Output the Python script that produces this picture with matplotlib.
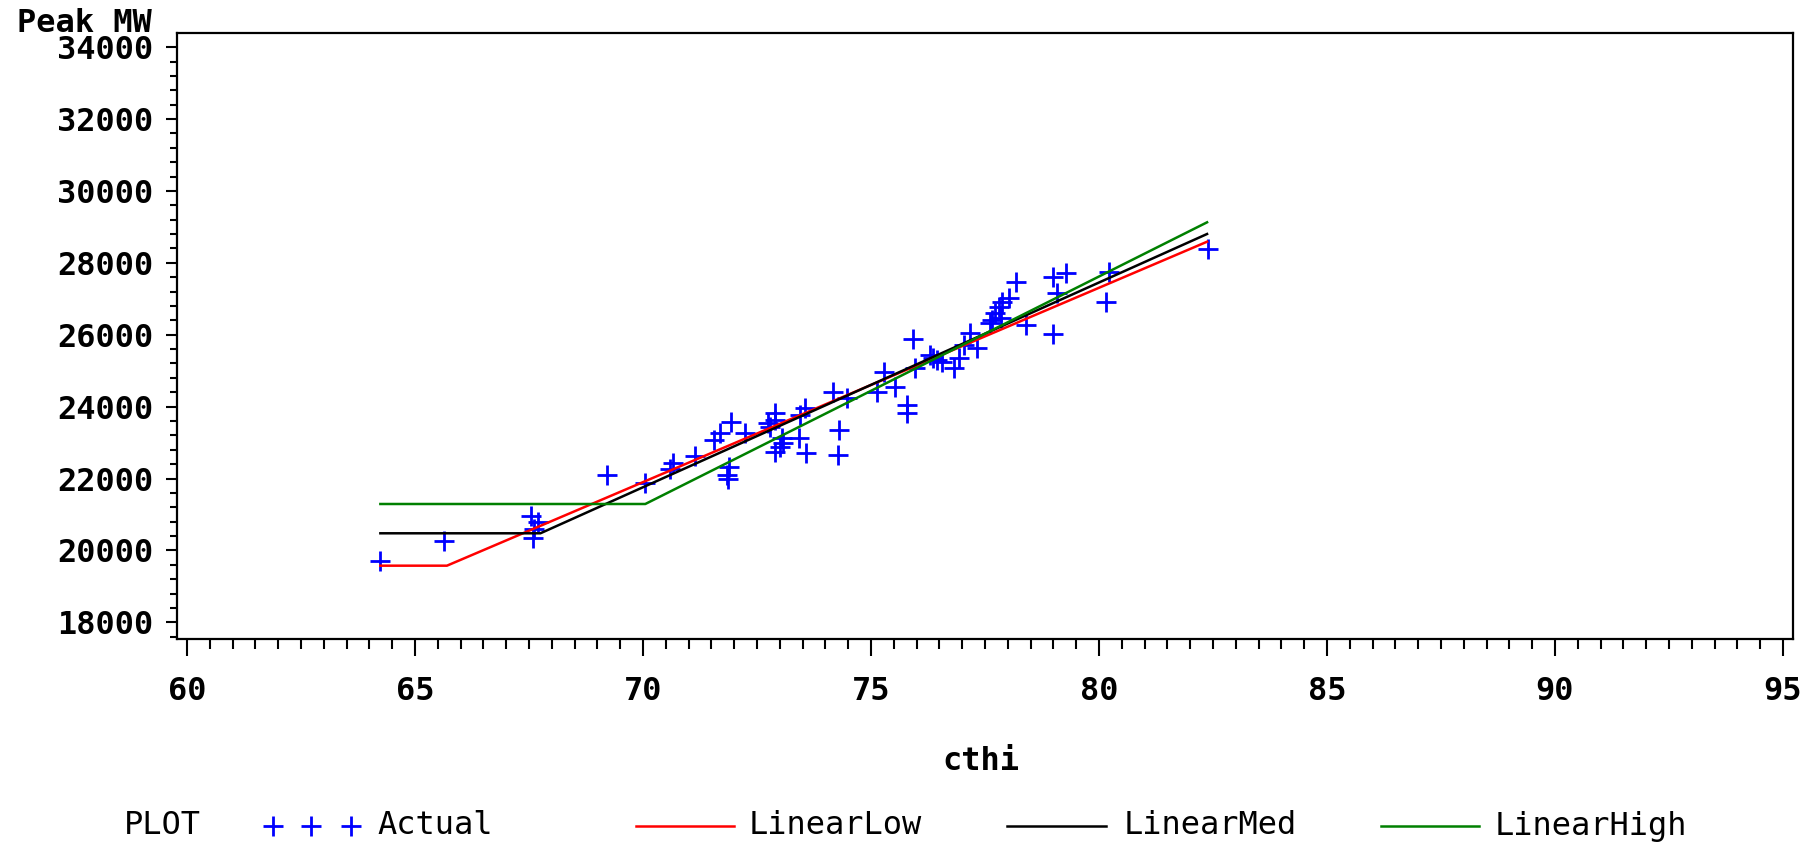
import matplotlib
matplotlib.use('Agg')
import matplotlib.pyplot as plt
from matplotlib.lines import Line2D
from matplotlib.ticker import MultipleLocator

# observed daily peaks against cthi
cthi = [64.24, 65.63, 67.55, 67.70, 67.62, 67.58, 69.22, 70.05, 70.66, 70.60,
        71.13, 71.55, 71.69, 71.92, 72.24, 71.88, 71.84, 71.86, 72.75, 72.90,
        73.05, 72.90, 73.01, 72.90, 72.79, 73.06, 73.56, 73.45, 73.41, 73.58,
        74.17, 74.47, 74.29, 74.27, 75.29, 75.13, 75.52, 75.79, 75.79, 75.93,
        75.97, 76.30, 76.37, 76.45, 76.56, 76.81, 76.92, 77.03, 77.18, 77.32,
        77.62, 77.65, 77.73, 77.84, 77.80, 77.87, 78.02, 78.19, 78.41, 79.00,
        79.08, 79.00, 79.28, 80.21, 80.15, 82.38]
peak_mw = [19705, 20262, 20950, 20800, 20600, 20340, 22100, 21870, 22420, 22260,
           22630, 23070, 23260, 23580, 23260, 22330, 22100, 22000, 23540, 23810,
           23120, 22750, 22890, 23630, 23440, 22980, 23950, 23770, 23120, 22700,
           24420, 24230, 23350, 22650, 24970, 24420, 24560, 24050, 23810, 25870,
           25070, 25440, 25350, 25300, 25250, 25070, 25340, 25710, 26040, 25620,
           26320, 26410, 26600, 26460, 26780, 26920, 27010, 27480, 26270, 27620,
           27150, 26010, 27710, 27750, 26920, 28380]

# fitted piecewise-linear models (flat floor, then linear)
low_x = [64.24, 65.70, 82.37]
low_y = [19575, 19575, 28588]
med_x = [64.24, 67.75, 82.37]
med_y = [20476, 20476, 28803]
high_x = [64.24, 70.05, 82.37]
high_y = [21291, 21291, 29128]

W, H = 1820, 843
FONT = 'DejaVu Sans Mono'
FS = 23
MS, MEW, LW = 15, 2.0, 1.8

fig = plt.figure(figsize=(W / 100, H / 100), dpi=100)
ax = fig.add_axes([177 / W, 1 - 639 / H, (1793 - 177) / W, (639 - 33) / H])

ax.plot(cthi, peak_mw, linestyle='none', marker='+', color='#0000FF',
        markersize=MS, markeredgewidth=MEW)
ax.plot(low_x, low_y, color='#FF0000', lw=LW)
ax.plot(med_x, med_y, color='black', lw=LW)
ax.plot(high_x, high_y, color='#008000', lw=LW)

ax.set_xlim(59.78, 95.22)
ax.set_ylim(17535, 34395)
ax.xaxis.set_major_locator(MultipleLocator(5))
ax.xaxis.set_minor_locator(MultipleLocator(0.5))
ax.yaxis.set_major_locator(MultipleLocator(2000))
ax.yaxis.set_minor_locator(MultipleLocator(400))

for s in ax.spines.values():
    s.set_linewidth(1.6)

ax.tick_params(axis='x', which='major', length=12, width=1.5, pad=15)
ax.tick_params(axis='x', which='minor', length=7, width=1.5)
ax.tick_params(axis='y', which='major', length=8, width=1.5, pad=9)
ax.tick_params(axis='y', which='minor', length=5, width=1.5)
for lab in ax.get_xticklabels() + ax.get_yticklabels():
    lab.set_family(FONT)
    lab.set_fontsize(FS)
    lab.set_fontweight('bold')

ax.set_xlabel('cthi', family=FONT, fontsize=FS, fontweight='bold', va='center')
ax.xaxis.set_label_coords((981 - 177) / (1793 - 177), (639 - 761) / (639 - 33))

fig.text(152 / W, 1 - 23 / H, 'Peak MW', family=FONT, fontsize=FS,
         fontweight='bold', ha='right', va='center')

# legend row along the bottom
ly = 1 - 826 / H
fig.text(124 / W, ly, 'PLOT', family=FONT, fontsize=FS, va='center')
fig.add_artist(Line2D([273 / W, 311 / W, 351 / W], [ly] * 3, linestyle='none',
                      marker='+', color='#0000FF', markersize=MS,
                      markeredgewidth=MEW, transform=fig.transFigure))
fig.text(377 / W, ly, 'Actual', family=FONT, fontsize=FS, va='center')
for x0, x1, tx, col, name in [(636, 734, 749, '#FF0000', 'LinearLow'),
                              (1007, 1106, 1124, 'black', 'LinearMed'),
                              (1381, 1479, 1495, '#008000', 'LinearHigh')]:
    fig.add_artist(Line2D([x0 / W, x1 / W], [ly, ly], color=col, lw=LW,
                          transform=fig.transFigure))
    fig.text(tx / W, ly, name, family=FONT, fontsize=FS, va='center')

fig.savefig('out.png', dpi=100)
